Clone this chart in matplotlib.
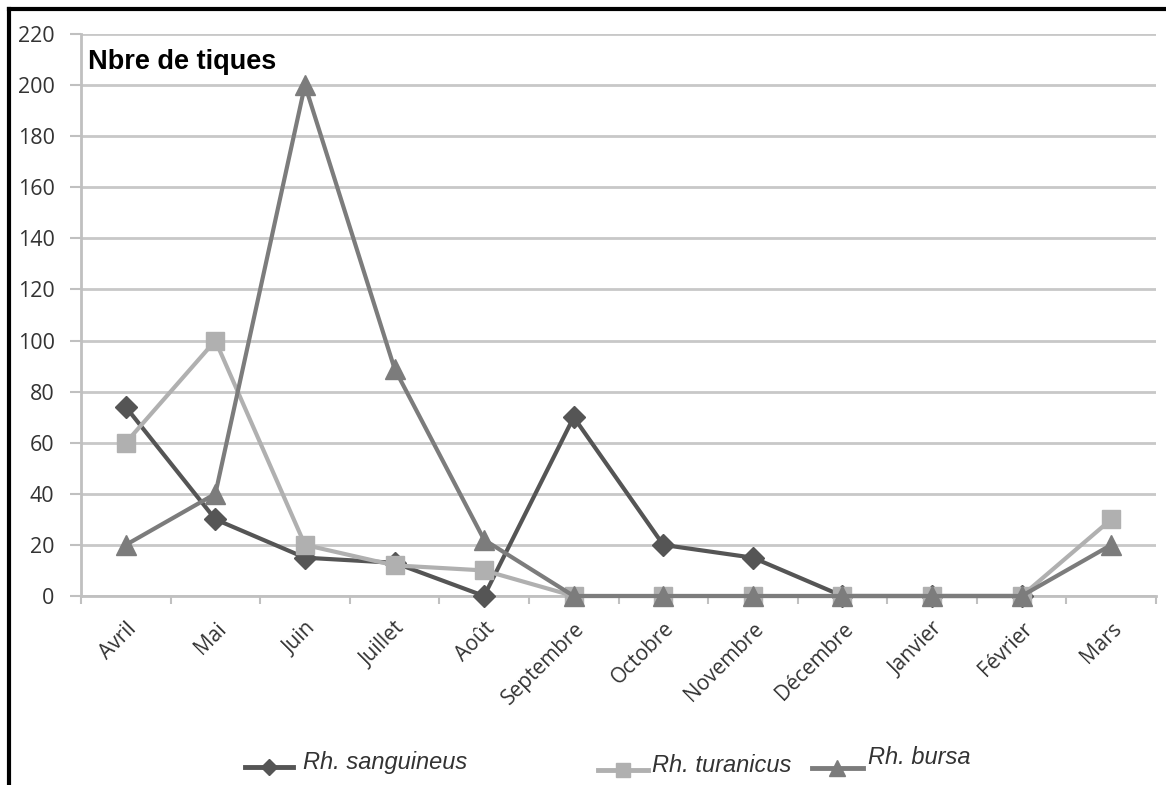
import numpy as np
import matplotlib
matplotlib.use("Agg")
from matplotlib import pyplot as plt
from matplotlib.lines import Line2D

# data
mois = ["Avril", "Mai", "Juin", "Juillet", "Août", "Septembre", "Octobre",
        "Novembre", "Décembre", "Janvier", "Février", "Mars"]
sanguineus = [74, 30, 15, 13, 0, 70, 20, 15, 0, 0, 0, np.nan]
turanicus = [60, 100, 20, 12, 10, 0, 0, 0, 0, 0, 0, 30]
bursa = [20, 40, 200, 89, 22, 0, 0, 0, 0, 0, 0, 20]
yticks = list(range(0, 221, 20))

c_san = "#555555"
c_tur = "#b0b0b0"
c_bur = "#7c7c7c"
txt_col = "#333333"

plt.rcParams['font.family'] = ['Open Sans', 'DejaVu Sans']

W, H = 1166, 785
fig = plt.figure(figsize=(W / 100, H / 100), dpi=100)
ax = fig.add_axes([81/W, 1 - 596/H, (1156 - 81)/W, (596 - 34)/H])

x = np.arange(len(mois))
ax.plot(x, sanguineus, color=c_san, lw=3, marker="D", ms=11, zorder=3,
        clip_on=False)
ax.plot(x, turanicus, color=c_tur, lw=3, marker="s", ms=13, zorder=4,
        clip_on=False)
ax.plot(x, bursa, color=c_bur, lw=3, marker="^", ms=14, zorder=5,
        clip_on=False)

ax.set_xlim(-0.5, len(mois) - 0.5)
ax.set_ylim(0, 220)
ax.set_yticks(yticks)
ax.grid(axis="y", color="#c8c8c8", lw=2)
ax.set_axisbelow(True)

ax.set_xticks(x)
ax.set_xticklabels(mois, rotation=45, ha="right", rotation_mode="anchor",
                   fontsize=15, color=txt_col)
ax.tick_params(axis="x", length=0, pad=16)
ax.set_xticks(np.arange(-0.5, len(mois)), minor=True)
ax.tick_params(axis="x", which="minor", length=6, color="#c0c0c0", width=1.5)
ax.tick_params(axis="y", length=8, color="#c0c0c0", width=1.5,
               labelsize=15.5, labelcolor=txt_col, pad=11)

for s in ["top", "right"]:
    ax.spines[s].set_visible(False)
for s in ["left", "bottom"]:
    ax.spines[s].set_color("#c0c0c0")
    ax.spines[s].set_linewidth(2)

ax.text(7/1075, 1 - 15/562, "Nbre de tiques", transform=ax.transAxes,
        fontsize=19.5, fontweight="bold", family="Liberation Sans",
        color="black", va="top")

# legend drawn like the original: line + marker, then italic label
entries = [("Rh. sanguineus", c_san, "D", 8, 245, 293, 767, 303, 762),
           ("Rh. turanicus", c_tur, "s", 10, 598, 648, 770, 652, 765),
           ("Rh. bursa", c_bur, "^", 11, 812, 863, 768, 868, 757)]
for lab, col, mk, ms, x0, x1, yh, xt, yt in entries:
    fig.add_artist(Line2D([x0/W, x1/W], [1 - yh/H, 1 - yh/H], color=col,
                          lw=3.5, transform=fig.transFigure))
    fig.add_artist(Line2D([(x0 + x1)/2/W], [1 - yh/H], color=col, marker=mk,
                          ms=ms, lw=0, transform=fig.transFigure))
    fig.text(xt/W, 1 - yt/H, lab, family="Liberation Sans", style="italic",
             fontsize=17, color=txt_col, va="center", ha="left")

# outer frame (left and top visible)
fig.add_artist(Line2D([9/W, 9/W], [0, 1 - 9/H], color="black",
                      lw=3, transform=fig.transFigure))
fig.add_artist(Line2D([9/W, 1], [1 - 9/H, 1 - 9/H], color="black",
                      lw=3, transform=fig.transFigure))

fig.savefig("out.png", dpi=100, facecolor="white")
